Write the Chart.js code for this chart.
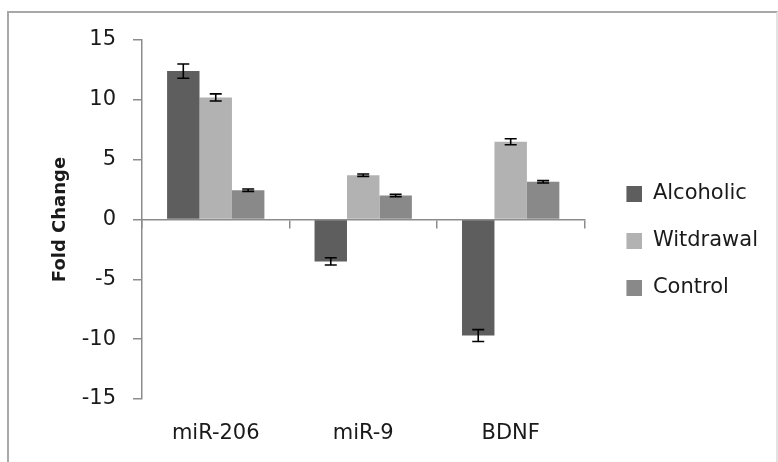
<!DOCTYPE html>
<html>
<head>
<meta charset="utf-8">
<script src="https://cdn.jsdelivr.net/npm/chart.js@4"></script>
<style>
  body { margin: 0; background: #fff; }
  #frame {
    position: absolute; left: 7px; top: 11px; width: 767px; height: 470px;
    border: 2px solid #a8a8a8; border-right-color: #e2e2e2; border-bottom: none;
  }
  #wrap { position: absolute; left: 0; top: 0; width: 778px; height: 462px; }
</style>
</head>
<body>
<div id="frame"></div>
<div id="wrap"><canvas id="chart"></canvas></div>
<script>
// -------------------------------
// Data
// -------------------------------
const categories = ["miR-206", "miR-9", "BDNF"];
const seriesNames = ["Alcoholic", "Witdrawal", "Control"];
const alcoholic = [12.4, -3.5, -9.7];
const withdrawal = [10.2, 3.7, 6.5];
const control = [2.45, 2.0, 3.15];
const alcoholicErr = [0.6, 0.3, 0.5];
const withdrawalErr = [0.3, 0.1, 0.25];
const controlErr = [0.1, 0.1, 0.1];
const yTicks = [-15, -10, -5, 0, 5, 10, 15];

const colors = ["#5e5e5e", "#b2b2b2", "#898989"];
const axisGray = "#8c8c8c";
const FONT = "DejaVu Sans";

// legend swatch: square sitting at the right end of a wider transparent box,
// so the swatch ends up next to its label like in the original
function makeSwatch(color) {
  const c = document.createElement("canvas");
  c.width = 32;
  c.height = 16;
  const g = c.getContext("2d");
  g.fillStyle = color;
  g.fillRect(16, 0, 16, 16);
  return c;
}

// error bars drawn on top of the bars
const errorBars = {
  id: "errorBars",
  afterDatasetsDraw(chart) {
    const ctx = chart.ctx;
    const y = chart.scales.y;
    chart.data.datasets.forEach((ds, i) => {
      const meta = chart.getDatasetMeta(i);
      meta.data.forEach((bar, j) => {
        const v = ds.data[j];
        const e = ds.errors[j];
        const top = y.getPixelForValue(v + e);
        const bot = y.getPixelForValue(v - e);
        ctx.save();
        ctx.strokeStyle = "#000";
        ctx.lineWidth = 1.6;
        ctx.beginPath();
        ctx.moveTo(bar.x, top);
        ctx.lineTo(bar.x, bot);
        ctx.moveTo(bar.x - 6, top);
        ctx.lineTo(bar.x + 6, top);
        ctx.moveTo(bar.x - 6, bot);
        ctx.lineTo(bar.x + 6, bot);
        ctx.stroke();
        ctx.restore();
      });
    });
  },
};

new Chart(document.getElementById("chart"), {
  type: "bar",
  data: {
    labels: categories,
    datasets: [
      { label: seriesNames[0], data: alcoholic, errors: alcoholicErr, backgroundColor: colors[0], pointStyle: makeSwatch(colors[0]) },
      { label: seriesNames[1], data: withdrawal, errors: withdrawalErr, backgroundColor: colors[1], pointStyle: makeSwatch(colors[1]) },
      { label: seriesNames[2], data: control, errors: controlErr, backgroundColor: colors[2], pointStyle: makeSwatch(colors[2]) },
    ],
  },
  options: {
    responsive: true,
    maintainAspectRatio: false,
    animation: false,
    datasets: { bar: { barPercentage: 1.0, categoryPercentage: 0.66 } },
    layout: { padding: { top: 40, bottom: 20, left: 0, right: 10 } },
    plugins: {
      tooltip: { enabled: false },
      legend: {
        position: "right",
        labels: {
          font: { family: FONT, size: 21 },
          color: "#1a1a1a",
          usePointStyle: true,
          pointStyleWidth: 32,
          boxHeight: 16,
          padding: 26,
        },
      },
    },
    scales: {
      x: {
        position: "bottom",
        grid: { display: false, drawTicks: false },
        border: { display: false },
        ticks: { font: { family: FONT, size: 21 }, color: "#1a1a1a", padding: 22 },
        afterFit: (s) => { s.height = 43; },
      },
      xZero: {
        type: "category",
        position: { y: 0 },
        offset: true,
        grid: { offset: true, drawOnChartArea: false, tickLength: 8, color: axisGray, lineWidth: 1.5 },
        border: { color: axisGray, width: 1.5 },
        ticks: { display: false },
      },
      y: {
        min: -15,
        max: 15,
        afterBuildTicks: (s) => { s.ticks = yTicks.map((v) => ({ value: v })); },
        grid: { drawOnChartArea: false, tickLength: 9, color: axisGray, lineWidth: 1.5 },
        border: { color: axisGray, width: 1.5 },
        ticks: { font: { family: FONT, size: 21 }, color: "#1a1a1a", padding: 17 },
        title: {
          display: true,
          text: "Fold Change",
          font: { family: FONT, size: 18, weight: "bold" },
          color: "#1a1a1a",
          padding: { top: 50, bottom: 0 },
        },
        afterFit: (s) => { s.width = 142; },
      },
    },
  },
  plugins: [errorBars],
});
</script>
</body>
</html>
